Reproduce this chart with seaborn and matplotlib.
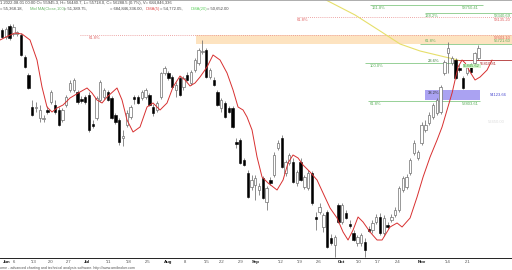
import numpy as np
import pandas as pd
import matplotlib
matplotlib.use("Agg")
import matplotlib.pyplot as plt
import seaborn as sns

# ---------------- data ----------------
opens = [57465, 57105, 57671, 57259, 57259, 57208, 56075, 55148, 53500, 53448,
         52933, 52882, 53345, 53757, 53603, 53345, 52830, 53603, 54375, 54375,
         54272, 53912, 54015, 54118, 52624, 52933, 53860, 54015, 54272, 53963,
         53088, 52830, 51903, 52573, 52985, 54015, 54015, 53963, 54015, 54118,
         53500, 53345, 54015, 55251, 55251, 55045, 54375, 54993, 54530, 55148,
         54736, 55405, 55766, 56332, 56435, 55045, 54890, 54272, 53448, 53706,
         53448, 53448, 51697, 51800, 50770, 50101, 49380, 49483, 49225, 49843,
         48607, 49740, 49998, 51388, 51903, 50101, 50616, 50667, 49586, 50667,
         49380, 49328, 50101, 47835, 48092, 47320, 48092, 46753, 46393, 48453,
         47577, 48041, 47474, 47011, 46496, 46496, 46547, 47217, 47165, 47577,
         47835, 47011, 47423, 47680, 47938, 48195, 49225, 49380, 50101, 51131,
         50873, 51646, 52315, 52676, 52985, 53191, 53242, 55251, 56281, 55766,
         55920, 55508, 54993, 55251, 55560, 55766, 56023]
highs = [57568, 57620, 57774, 57774, 57414, 57311, 56178, 55251, 53860, 53757,
         53603, 53088, 53551, 54375, 53860, 53500, 53448, 54118, 54890, 54993,
         54375, 54066, 54118, 54272, 52830, 54066, 54890, 54478, 54375, 54066,
         53191, 52933, 52315, 53345, 53603, 54118, 54118, 54375, 54478, 54221,
         53654, 53809, 55302, 55611, 55354, 55148, 54787, 55096, 55096, 55302,
         55405, 56023, 56538, 56950, 56538, 55508, 55045, 54375, 53963, 53809,
         53551, 53551, 51903, 51903, 50873, 50255, 49998, 49998, 49586, 49946,
         49431, 49895, 51182, 51800, 52058, 50770, 51131, 50873, 50255, 50873,
         49998, 50255, 50204, 48092, 48556, 48041, 48195, 46959, 46908, 48556,
         48556, 48195, 47680, 47165, 46908, 47011, 46753, 47371, 47680, 47989,
         48041, 47938, 47577, 47989, 48350, 49431, 49946, 50049, 50873, 51800,
         51285, 52727, 52830, 53242, 53706, 53963, 54633, 55920, 56847, 56126,
         56023, 55714, 55096, 55714, 55766, 56332, 56693]
lows = [57053, 57002, 56950, 57156, 57156, 56126, 55508, 54427, 53036, 53242,
        52727, 52727, 53139, 53654, 53139, 52521, 52727, 53500, 54272, 54272,
        53654, 53706, 53654, 52212, 52418, 52830, 53757, 53912, 53809, 52882,
        52624, 51543, 51491, 52470, 52882, 53654, 53654, 53860, 53912, 53551,
        53036, 53242, 53912, 55148, 54890, 54478, 54015, 54066, 54375, 54839,
        54633, 55302, 55663, 56229, 54993, 54942, 54581, 53551, 53242, 52933,
        53191, 52418, 51388, 50564, 50461, 48813, 49225, 48710, 48968, 48762,
        48195, 49483, 49895, 51285, 50358, 49946, 50513, 49586, 49431, 49689,
        49277, 49225, 48453, 47165, 47989, 47062, 46238, 46393, 45775, 47526,
        47474, 47732, 47268, 46599, 46341, 46341, 45775, 47062, 47011, 47474,
        46908, 46856, 47217, 47577, 47835, 48092, 49122, 49277, 49998, 51028,
        50770, 51543, 52212, 52573, 52882, 53088, 53139, 55148, 55251, 55663,
        54942, 55302, 54427, 55148, 55251, 55663, 55920]
closes = [57105, 57517, 57053, 57620, 57362, 56178, 55560, 54478, 53088, 53500,
          53345, 52933, 53242, 54272, 53242, 52573, 53345, 54015, 54736, 54890,
          53757, 53809, 53757, 52315, 52521, 53963, 54787, 54375, 53860, 52933,
          52727, 51697, 52006, 53191, 53500, 53912, 53706, 54272, 54375, 53603,
          53191, 53706, 55251, 55508, 54993, 54530, 54633, 54118, 54993, 54890,
          55302, 55920, 56435, 56384, 55045, 55405, 54633, 53603, 53860, 52985,
          53242, 52470, 51594, 50616, 50513, 48865, 49740, 49843, 49431, 48813,
          49328, 49586, 51028, 51646, 50410, 50667, 51028, 49637, 50152, 49740,
          49895, 50101, 48556, 47732, 48350, 47938, 46290, 46496, 46805, 47577,
          48453, 47783, 47371, 46650, 46805, 46908, 46135, 47114, 47526, 47835,
          47011, 47783, 47320, 47835, 48195, 49328, 49843, 49895, 50770, 51646,
          51182, 52573, 52573, 53088, 53603, 53860, 54530, 55817, 56538, 56023,
          54993, 55405, 54478, 55560, 55302, 56281, 56538]

ma_pos = [-0.53, 1.59, 3.44, 5.29, 7.41, 9.26, 10.58, 11.90, 13.23, 14.55,
          16.14, 17.99, 20.63, 22.49, 23.81, 25.13, 26.46, 27.78, 30.42, 31.75,
          33.07, 34.66, 36.51, 38.36, 39.95, 41.80, 43.65, 45.24, 47.09, 48.41,
          49.74, 51.06, 52.38, 54.23, 55.82, 57.67, 59.52, 61.11, 62.43, 63.76,
          64.81, 66.14, 67.46, 68.78, 70.37, 72.75, 74.34, 75.66, 76.98, 78.31,
          79.63, 81.48, 83.33, 84.92, 86.77, 88.62, 90.21, 91.53, 92.86, 94.18,
          95.50, 97.35, 99.21, 100.53, 102.65, 104.50, 105.82, 107.94, 109.79, 111.38,
          113.23, 115.08, 116.40, 117.72, 119.05, 119.84, 120.63, 121.69, 122.49, 123.81,
          125.13, 126.46, 128.31, 129.63]
ma_val = [56950, 57156, 57311, 57259, 56950, 55920, 54530, 53500, 53242, 53448,
          53603, 53963, 54272, 54478, 54221, 53860, 53706, 54015, 54478, 53860,
          52830, 52212, 52470, 53500, 53706, 53345, 53706, 54530, 55096, 54890,
          54581, 54736, 55045, 55560, 56178, 55920, 55251, 54375, 53500, 53345,
          52985, 52315, 50925, 49895, 49586, 49225, 49740, 50616, 51028, 50873,
          50513, 50152, 49740, 49071, 48298, 47783, 47062, 46650, 47165, 47835,
          47577, 47062, 46650, 46650, 47320, 47526, 47320, 47783, 48865, 49895,
          50925, 51800, 52470, 53345, 54221, 54890, 55560, 55920, 55766, 55302,
          54890, 55045, 55405, 55920]

yellow_pos = [85.19, 93.39, 100.0, 105.29, 110.58, 117.20, 120.63]
yellow_val = [59061, 58238, 57414, 56744, 56384, 56075, 55920]

tick_pos = [1.32, 3.17, 8.47, 12.96, 17.72, 22.49, 28.31, 33.6, 38.62, 43.92,
            48.41, 54.23, 58.2, 63.23, 67.2, 73.81, 78.84, 83.86, 89.68, 94.44,
            99.47, 104.76, 111.11, 117.99, 123.28]
tick_labels = ["Jun", "'6", "'13", "'20", "'27", "Jul", "'11", "'18", "'25", "Aug",
               "'8", "'15", "'22", "'29", "Sep", "'12", "'19", "'26", "Oct", "'10",
               "'17", "'24", "Nov", "'14", "'21"]

fib_161 = 58752
fib_138 = 58340
fib_red_hi = 58135
fib_red_mid = 57208
band_orange = (57208, 56744)
fib_618_hi = 56744
fib_100 = 55766
level_red = 55895
band_blue = (54375, 53860)
fib_618_lo = 53809

# ---------------- style ----------------
sns.set_theme(style="white")
plt.rcParams['font.family'] = ['Liberation Sans', 'DejaVu Sans']

fig = plt.figure(figsize=(5.12, 2.70), dpi=100)
fig.patch.set_facecolor("white")
ax = fig.add_axes([0, 12 / 270, 1, 258 / 270])
ax.set_facecolor("white")
XMIN, XMAX = -0.53, 134.9
ax.set_xlim(XMIN, XMAX)
ax.set_ylim(45723, 59010)

for s in ["left", "right"]:
    ax.spines[s].set_visible(False)
ax.spines["top"].set_color("#a0a0a0")
ax.spines["top"].set_linewidth(1.2)
ax.spines["bottom"].set_color("#222222")
ax.spines["bottom"].set_linewidth(0.7)
ax.set_yticks([])

GREEN_LINE = "#86c986"
GREEN_TXT = "#5aae5a"
RED_TXT = "#e06060"
FS = 3.0
XR = XMAX - 0.3

# bands
ax.fill_between([51.3, XMAX], band_orange[1], band_orange[0], color="#fde3c0", lw=0, zorder=1)
ax.fill_between([111.9, 126.5], band_blue[1], band_blue[0], color="#aaa2f2", lw=0, zorder=1)

# fib lines
ax.hlines(fib_161, 97.35, 127.2, color=GREEN_LINE, lw=0.6, zorder=1.5)
ax.hlines(fib_138, 111.9, XMAX, color=GREEN_LINE, lw=0.6, zorder=1.5)
ax.hlines(fib_red_hi, 78.0, XMAX, color="#e88a8a", lw=0.6, ls=(0, (1, 1.5)), zorder=1.5)
ax.hlines(fib_red_mid, 20.6, XMAX, color="#e88a8a", lw=0.6, ls=(0, (1, 1.5)), zorder=1.5)
ax.hlines(fib_618_hi, 110.6, XMAX, color=GREEN_LINE, lw=0.6, zorder=1.5)
ax.hlines(fib_100, 96.0, 119.5, color=GREEN_LINE, lw=0.6, zorder=1.5)
ax.hlines(level_red, 119.5, XMAX, color="#b03030", lw=0.6, zorder=1.5)
ax.hlines(fib_618_lo, 96.8, 126.5, color=GREEN_LINE, lw=0.6, zorder=1.5)

def lbl(x, y, s, color, va="top", ha="left", **kw):
    ax.text(x, y, s, color=color, fontsize=FS, va=va, ha=ha, zorder=6, **kw)

lbl(97.9, fib_161 - 30, "161.8%", GREEN_TXT)
lbl(121.7, fib_161 - 30, "58750.41", GREEN_TXT)
lbl(111.9, fib_138 - 30, "138.2%", GREEN_TXT)
lbl(XR, fib_138 - 30, "58340.69", GREEN_TXT, ha="right")
lbl(78.0, fib_red_hi - 30, "61.8%", RED_TXT)
lbl(XR, fib_red_hi - 30, "58135.20", RED_TXT, ha="right")
lbl(23.0, fib_red_mid - 30, "61.8%", RED_TXT)
lbl(XR, fib_red_mid - 30, "57603.10", RED_TXT, ha="right")
lbl(111.9, fib_618_hi + 40, "61.8%", GREEN_TXT, va="bottom")
lbl(XR, fib_618_hi + 40, "56721.60", GREEN_TXT, va="bottom", ha="right")
lbl(97.35, fib_100 - 30, "100.0%", GREEN_TXT)
lbl(112.7, fib_100 + 20, "23.6%", "#3a7a3a", va="bottom")
lbl(126.5, level_red - 60, "55810.81", "#b03030")
ax.text(122.0, 55611, "55845.62", color="#3a9a3a", fontsize=FS, va="center", ha="left", zorder=6,
        bbox=dict(boxstyle="square,pad=0.1", fc="#d8f5d0", ec="none"))
lbl(112.7, 54221, "38.2%", "#333333", va="center")
lbl(129.1, 54118, "54123.66", "#4a4ad0", va="center")
lbl(97.35, fib_618_lo - 30, "61.8%", GREEN_TXT)
lbl(121.7, fib_618_lo - 30, "53803.61", GREEN_TXT)
lbl(128.6, 52727, "52450.00", "#dcdcdc", va="center")

# yellow curve
ax.plot(yellow_pos, yellow_val, color="#e6df6a", lw=0.8, zorder=2)

# candles
df = pd.DataFrame(dict(i=np.arange(len(opens)), o=opens, h=highs, l=lows, c=closes))
up = df.c >= df.o
ax.vlines(df.i, df.l, df.h, color="#606060", lw=0.5, zorder=3)
ax.bar(df.i[up], (df.c - df.o)[up], bottom=df.o[up], width=0.62, color="white",
       edgecolor="#707070", linewidth=0.5, zorder=4)
ax.bar(df.i[~up], (df.o - df.c)[~up], bottom=df.c[~up], width=0.62, color="black",
       edgecolor="black", linewidth=0.4, zorder=4)

# moving average line
sns.lineplot(x=ma_pos, y=ma_val, color="#d83030", lw=0.7, ax=ax, estimator=None,
             sort=False, zorder=5)

# x axis
ax.set_xticks(tick_pos)
ax.set_xticklabels(tick_labels)
ax.tick_params(axis="x", length=0, pad=1.2, labelsize=3.2, colors="#555555")
for t in ax.get_xticklabels():
    if not t.get_text().startswith("'"):
        t.set_fontweight("bold")
        t.set_color("#111111")

# header
def ftxt(x, y, s, color="#444444", fs=3.0):
    fig.text(x / 512, 1 - y / 270, s, color=color, fontsize=fs, va="center", ha="left")

ftxt(0, 3, "1 2022-08-01 00:00 O= 55945.3, H= 56440.7, L= 55718.0, C= 56288.5 (0.7%), V= 684,846,336")
ftxt(0, 9, "= 55,368.18,")
ftxt(30, 9, "Mid MA(Close,100)", "#6ab86a")
ftxt(64, 9, "= 51,389.75,")
ftxt(110, 9, "= 684,846,336.00,")
ftxt(146, 9, "DMA(5)", "#e05050")
ftxt(160, 9, "= 54,772.05,")
ftxt(191, 9, "DMA(20)", "#60d060")
ftxt(207, 9, "= 50,652.00")

# footer
ftxt(0, 267.5, "ome - advanced charting and technical analysis software. http://www.amibroker.com",
     "#555555", 2.6)

fig.savefig("out.png", dpi=100, facecolor="white")
